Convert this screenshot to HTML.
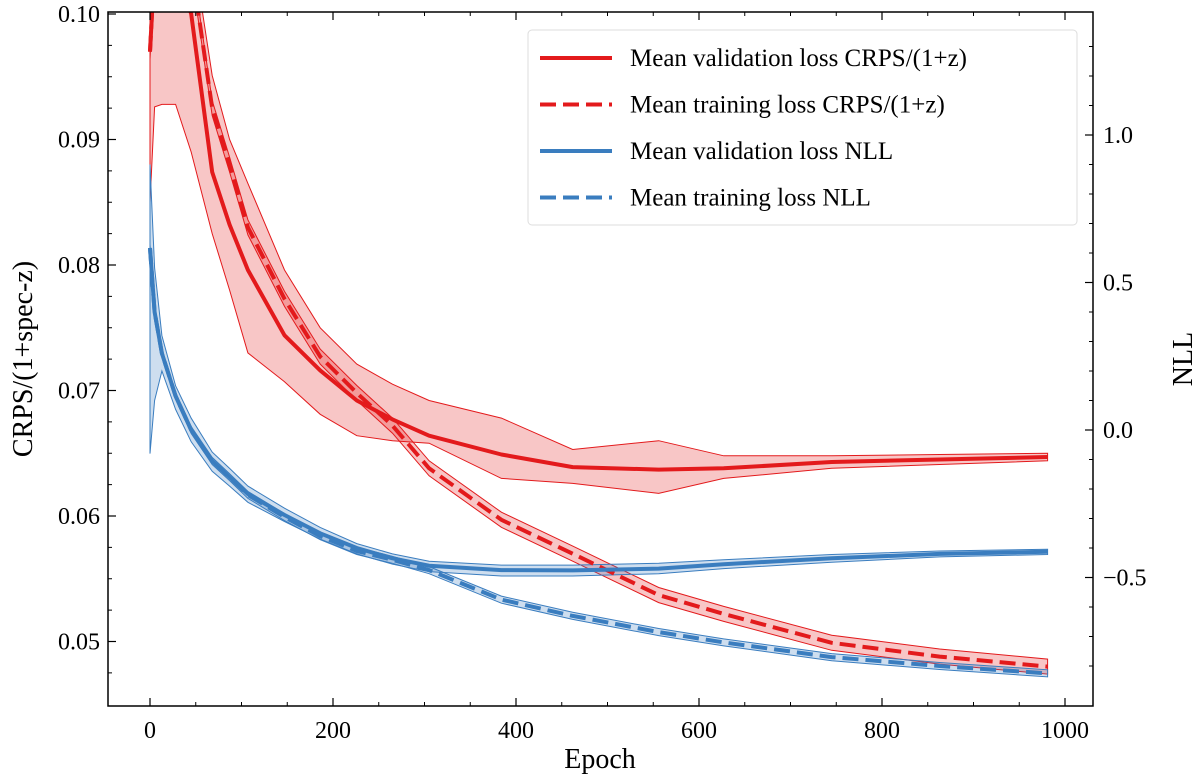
<!DOCTYPE html>
<html><head><meta charset="utf-8">
<style>
body{margin:0;background:#fff;}
svg{display:block;font-family:"Liberation Serif",serif;}
</style></head>
<body>
<svg id="chart" width="1200" height="782"></svg>
<script>
const epochs=[0,5,13,28,45,68,87,107,147,186,226,265,305,384,462,556,627,745,863,981];
const crpsVal=[0.097,0.104,0.104,0.104,0.100,0.0874,0.0832,0.0796,0.0744,0.0716,0.0692,0.0677,0.0664,0.0649,0.0639,0.0637,0.0638,0.0643,0.0645,0.0647];
const crpsValLo=[0.085,0.0926,0.0928,0.0928,0.089,0.0825,0.078,0.073,0.0707,0.0681,0.0664,0.066,0.0658,0.063,0.0626,0.0618,0.0630,0.0638,0.0641,0.0644];
const crpsValHi=[0.104,0.106,0.106,0.106,0.106,0.0951,0.090,0.0865,0.0796,0.075,0.0721,0.0705,0.0692,0.0678,0.0653,0.066,0.0648,0.0648,0.0649,0.0650];
const crpsTrain=[0.097,0.104,0.104,0.104,0.104,0.0925,0.088,0.083,0.0773,0.0727,0.0698,0.0672,0.0638,0.0597,0.0570,0.0537,0.0522,0.0499,0.0488,0.0480];
const nllVal=[0.617,0.40,0.26,0.115,0.0,-0.105,-0.16,-0.217,-0.288,-0.35,-0.40,-0.435,-0.46,-0.475,-0.476,-0.47,-0.455,-0.435,-0.42,-0.413];
const nllValLo=[-0.08,0.10,0.20,0.07,-0.04,-0.14,-0.19,-0.245,-0.31,-0.37,-0.42,-0.455,-0.48,-0.495,-0.495,-0.487,-0.47,-0.448,-0.43,-0.422];
const nllValHi=[0.9,0.55,0.32,0.15,0.04,-0.075,-0.13,-0.19,-0.265,-0.33,-0.385,-0.42,-0.445,-0.458,-0.458,-0.452,-0.44,-0.422,-0.41,-0.404];
const nllTrain=[0.617,0.40,0.26,0.115,0.0,-0.105,-0.16,-0.22,-0.295,-0.36,-0.41,-0.44,-0.475,-0.575,-0.63,-0.685,-0.72,-0.77,-0.80,-0.825];
const xTicks=[0,200,400,600,800,1000];
const yTicks=[0.05,0.06,0.07,0.08,0.09,0.10];
const y2Ticks=[-0.5,0.0,0.5,1.0];

const L=108,R=1093,T=12,B=706;
const sx=e=>150+e*0.915;
const sy=v=>14+(0.10-v)*12550;
const sy2=v=>430-v*295;
const NS="http://www.w3.org/2000/svg";
const svg=document.getElementById('chart');
function mk(tag,attrs,parent){const el=document.createElementNS(NS,tag);for(const k in attrs)el.setAttribute(k,attrs[k]);(parent||svg).appendChild(el);return el;}
const defs=mk('defs',{});
const cp=mk('clipPath',{id:'clip'},defs);mk('rect',{x:L,y:T,width:R-L,height:B-T},cp);
const g=mk('g',{'clip-path':'url(#clip)'});


function pts(arr,fy){return arr.map((v,i)=>sx(epochs[i]).toFixed(1)+','+fy(v).toFixed(1));}
function bandPts(lo,hi,fy){return pts(hi,fy).concat(pts(lo,fy).reverse()).join(' ');}
function band(lo,hi,fy,color,name){
  const el=mk('polygon',{points:bandPts(lo,hi,fy),fill:color,'fill-opacity':0.25,stroke:color,'stroke-width':1},g);
  
  
}
function line(arr,fy,color,dash,name){
  const el=mk('polyline',{points:pts(arr,fy).join(' '),fill:'none',stroke:color,'stroke-width':4,'stroke-dasharray':dash||'none','stroke-linejoin':'round'},g);
  
  
}
const red='#e31a1c',blue='#3a7dbf';
band(crpsValLo,crpsValHi,sy,red,'crps-validation-band');
band(crpsTrain.map(v=>v-0.0006),crpsTrain.map(v=>v+0.0006),sy,red,'crps-training-band');
band(nllValLo,nllValHi,sy2,blue,'nll-validation-band');
band(nllTrain.map(v=>v-0.012),nllTrain.map(v=>v+0.012),sy2,blue,'nll-training-band');
line(crpsVal,sy,red,null,'crps-validation-line');
line(crpsTrain,sy,red,'16,7','crps-training-line');
line(nllVal,sy2,blue,null,'nll-validation-line');
line(nllTrain,sy2,blue,'16,7','nll-training-line');

const fr=mk('rect',{x:L,y:T,width:R-L,height:B-T,fill:'none',stroke:'#000','stroke-width':1.5});


xTicks.forEach(t=>{
  const x=sx(t);
  mk('line',{x1:x,x2:x,y1:B,y2:B-8,stroke:'#000','stroke-width':1.2});
  mk('line',{x1:x,x2:x,y1:T,y2:T+8,stroke:'#000','stroke-width':1.2});
  const tx=mk('text',{x:x,y:B+32,'text-anchor':'middle','font-size':24});
  tx.textContent=t;
  
  
});
for(let t=-50;t<=1050;t+=50){if(t%200===0)continue;const x=sx(t);if(x<L||x>R)continue;
  mk('line',{x1:x,x2:x,y1:B,y2:B-4,stroke:'#000'});mk('line',{x1:x,x2:x,y1:T,y2:T+4,stroke:'#000'});}
yTicks.forEach(t=>{
  const y=sy(t);
  mk('line',{x1:L,x2:L+8,y1:y,y2:y,stroke:'#000','stroke-width':1.2});
  const tx=mk('text',{x:L-8,y:y+8,'text-anchor':'end','font-size':24});
  tx.textContent=t.toFixed(2);
  
  
});
for(let v=0.0475;v<0.1;v+=0.0025){const y=sy(v);if(y>B||y<T)continue;mk('line',{x1:L,x2:L+4,y1:y,y2:y,stroke:'#000'});}
y2Ticks.forEach(t=>{
  const y=sy2(t);
  mk('line',{x1:R,x2:R-8,y1:y,y2:y,stroke:'#000','stroke-width':1.2});
  const tx=mk('text',{x:R+10,y:y+8,'text-anchor':'start','font-size':24});
  tx.textContent=t<0?'\u2212'+Math.abs(t).toFixed(1):t.toFixed(1);
  
  
});
for(let v=-0.8;v<1.4;v+=0.1){const y=sy2(v);if(y>B||y<T)continue;mk('line',{x1:R,x2:R-4,y1:y,y2:y,stroke:'#000'});}
let t1=mk('text',{x:600,y:768,'text-anchor':'middle','font-size':28});t1.textContent='Epoch';

let t2=mk('text',{x:0,y:0,'text-anchor':'middle','font-size':28,transform:'translate(32,359) rotate(-90)'});t2.textContent='CRPS/(1+spec-z)';

let t3=mk('text',{x:0,y:0,'text-anchor':'middle','font-size':28,transform:'translate(1192,359) rotate(-90)'});t3.textContent='NLL';

const lg=mk('g',{});


mk('rect',{x:528,y:30,width:549,height:195,rx:4,fill:'#fff','fill-opacity':0.85,stroke:'#ddd'},lg);
const items=[['Mean validation loss CRPS/(1+z)',red,null],['Mean training loss CRPS/(1+z)',red,'16,7'],['Mean validation loss NLL',blue,null],['Mean training loss NLL',blue,'16,7']];
items.forEach((it,i)=>{
  const y=58+i*46.5;
  const ge=mk('g',{},lg);
  
  
  mk('line',{x1:540,x2:612,y1:y,y2:y,stroke:it[1],'stroke-width':4,'stroke-dasharray':it[2]||'none'},ge);
  const tx=mk('text',{x:630,y:y+8,'font-size':25},ge);tx.textContent=it[0];
});
</script>
</body></html>
